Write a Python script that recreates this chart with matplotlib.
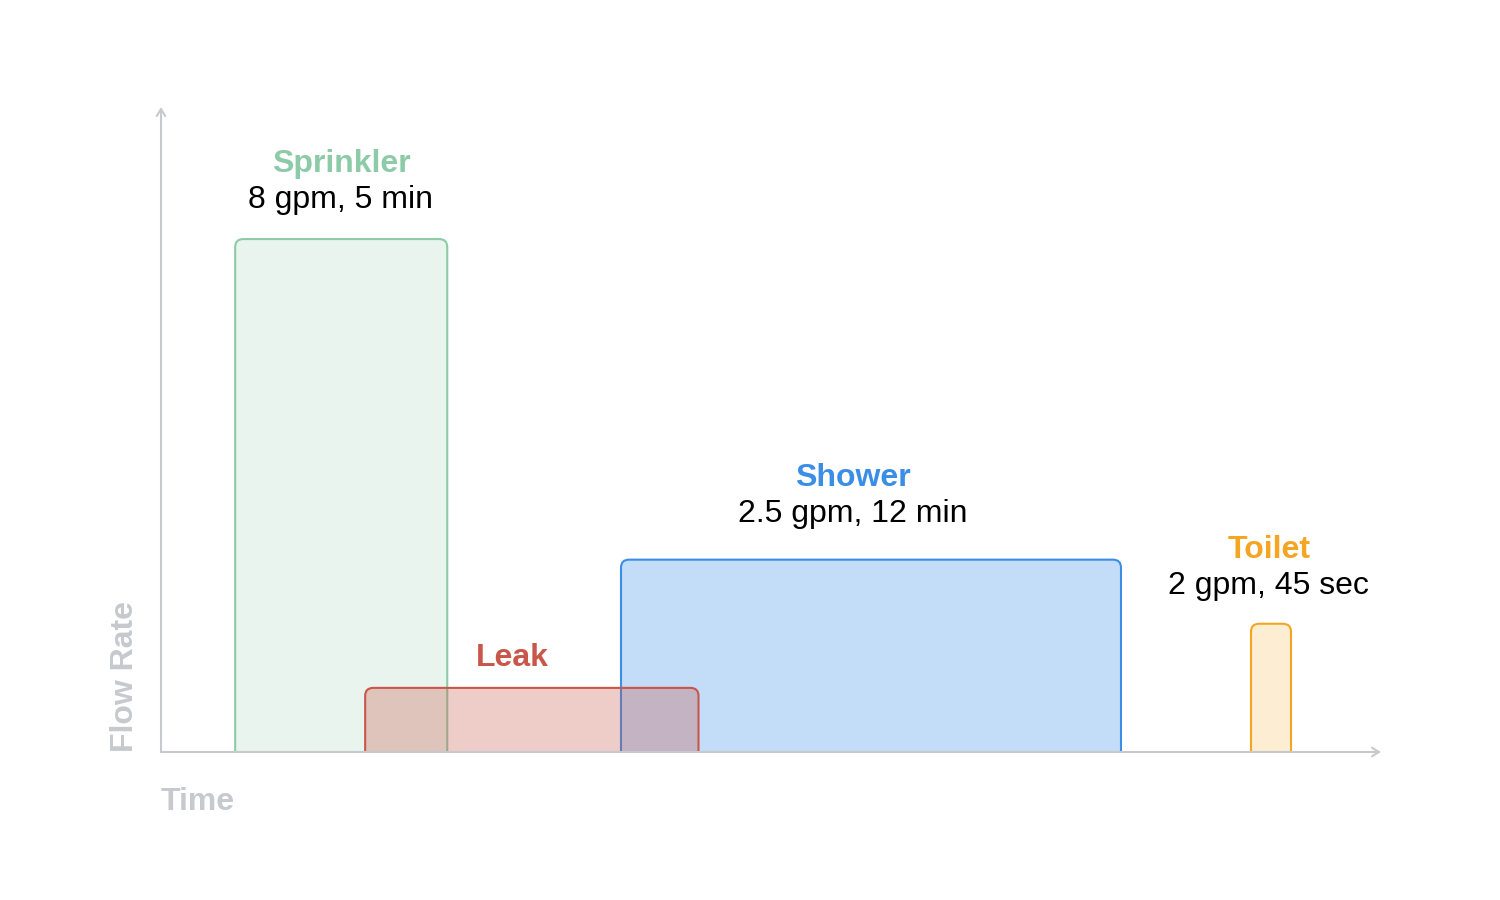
import matplotlib
matplotlib.use("Agg")
import matplotlib.pyplot as plt
from matplotlib.patches import FancyBboxPatch
from matplotlib.colors import to_rgba

# ---- data ----
activities = ["Sprinkler", "Leak", "Shower", "Toilet"]
subtitles = ["8 gpm, 5 min", "", "2.5 gpm, 12 min", "2 gpm, 45 sec"]
start_min = [1.78, 4.90, 11.04, 26.16]
duration_min = [5.09, 8.0, 12.0, 0.96]
flow_height = [8.0, 1.0, 3.0, 2.0]
label_center_min = [4.32, 8.42, 16.61, 26.59]
x_label = "Time"
y_label = "Flow Rate"

# ---- style ----
colors = ["#8DCBA8", "#C9564A", "#3A8EE6", "#F4A623"]
fill_alpha = [0.2, 0.3, 0.3, 0.2]
draw_order = [0, 2, 3, 1]
label_gap_px = [31, 22, 38, 30]   # gap from box top to lowest text baseline

plt.rcParams['font.family'] = ['Liberation Sans', 'DejaVu Sans']
AXIS_GREY = "#C6C9CE"
FS = 23

W, H, DPI = 1500, 900, 100
fig = plt.figure(figsize=(W / DPI, H / DPI), dpi=DPI)
ox, oy = 161, 752
x_end, y_end = 1381, 107
ax = fig.add_axes([ox / W, (H - oy) / H, (x_end - ox) / W, (oy - y_end) / H])
xmax = 29.28
ymax = 10.06
ax.set_xlim(0, xmax)
ax.set_ylim(0, ymax)
ax.axis("off")

xpx = (x_end - ox) / xmax
ypx = (oy - y_end) / ymax
r_px = 8
r_x = r_px / xpx
aspect = xpx / ypx

for i in draw_order:
    c = colors[i]
    extra = 3 * r_px / ypx
    p = FancyBboxPatch((start_min[i], -extra), duration_min[i], flow_height[i] + extra,
                       boxstyle=f"round,pad=0,rounding_size={r_x}",
                       mutation_aspect=aspect,
                       facecolor=to_rgba(c, fill_alpha[i]), edgecolor=c, linewidth=1.5,
                       zorder=2)
    ax.add_patch(p)

    cx = label_center_min[i]
    top = flow_height[i]
    g = label_gap_px[i]
    if subtitles[i]:
        ax.annotate(subtitles[i], xy=(cx, top), xytext=(0, g), textcoords="offset pixels",
                    ha="center", va="baseline", fontsize=FS, color="black",
                    annotation_clip=False)
        ax.annotate(activities[i], xy=(cx, top), xytext=(0, g + 36), textcoords="offset pixels",
                    ha="center", va="baseline", fontsize=FS, color=c, fontweight="bold",
                    annotation_clip=False)
    else:
        ax.annotate(activities[i], xy=(cx, top), xytext=(0, g), textcoords="offset pixels",
                    ha="center", va="baseline", fontsize=FS, color=c, fontweight="bold",
                    annotation_clip=False)

# axes arrows
arrow = dict(arrowstyle="->,head_length=0.5,head_width=0.3", color=AXIS_GREY, lw=1.5,
             shrinkA=0, shrinkB=0)
ax.annotate("", xy=(1, 0), xytext=(0, 0), xycoords="axes fraction", arrowprops=arrow, zorder=5)
ax.annotate("", xy=(0, 1), xytext=(0, 0), xycoords="axes fraction", arrowprops=arrow, zorder=5)

# axis labels
ax.annotate(x_label, xy=(0, 0), xycoords="axes fraction", xytext=(0, -58),
            textcoords="offset pixels", ha="left", va="baseline", fontsize=FS,
            color=AXIS_GREY, fontweight="bold", annotation_clip=False)
ax.annotate(y_label, xy=(0, 0), xycoords="axes fraction", xytext=(-36, 0),
            textcoords="offset pixels", ha="center", va="bottom", rotation=90,
            fontsize=FS, color=AXIS_GREY, fontweight="bold", annotation_clip=False)

fig.savefig("out.png", dpi=DPI)
